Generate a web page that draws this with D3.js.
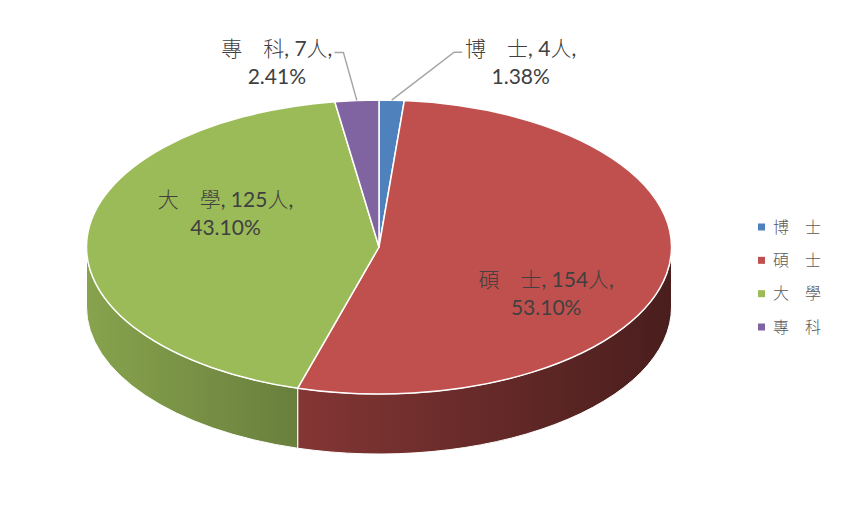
<!DOCTYPE html>
<html>
<head>
<meta charset="utf-8">
<script src="https://cdn.jsdelivr.net/npm/d3@7"></script>
<style>
  html, body { margin: 0; padding: 0; background: #fff; }
  svg { display: block; }
  .lbl { font-family: Lato, "Noto Sans CJK TC", sans-serif; font-size: 21px; fill: #404040; }
  .cjk { font-family: "Noto Sans CJK TC", sans-serif; font-weight: 300; }
  .legend text { font-family: "Noto Sans CJK TC", sans-serif; font-size: 16px; font-weight: 300; fill: #595959; }
</style>
</head>
<body>
<svg id="chart" width="849" height="517"></svg>
<script>
// data
const categories = ["博　士", "碩　士", "大　學", "專　科"];
const counts = [4, 154, 125, 7];
const unit = "人";
const colors = ["#4f81bd", "#c0504d", "#9bbb59", "#8064a2"];

const W = 849, H = 517;
const geo = { cx: 379, cy: 247, rx: 292.5, ry: 147, depth: 60 };

// label placement: offset from the slice's mid point (k = fraction of radius)
const labelLayout = [
    { k: 1, dx: 129, dy: -44, leader: "left" },
    { k: 0.55, dx: 9, dy: 25 },
    { k: 0.55, dx: 7, dy: -35 },
    { k: 1, dx: -80, dy: -44, leader: "right" }
];

const svg = d3.select("#chart");
const defs = svg.append("defs");

const total = d3.sum(counts);
const pct = d3.format(".2%");

const pie = d3.pie().sort(null).value(d => d.count);
const arcs = pie(categories.map((c, i) => ({ name: c, count: counts[i], color: colors[i], i: i })));

function pt(a, r = 1, dy = 0) {
    return [geo.cx + geo.rx * r * Math.sin(a), geo.cy - geo.ry * r * Math.cos(a) + dy];
}

// side shading gradients (lighter left, darker right)
arcs.forEach(d => {
    const base = d3.rgb(d.data.color);
    const shade = f => d3.rgb(base.r * f, base.g * f, base.b * f).toString();
    const g = defs.append("linearGradient")
        .attr("id", "side" + d.data.i)
        .attr("gradientUnits", "userSpaceOnUse")
        .attr("x1", geo.cx - geo.rx).attr("x2", geo.cx + geo.rx)
        .attr("y1", 0).attr("y2", 0);
    [[0, 0.87], [0.36, 0.68], [1, 0.38]].forEach(s => {
        g.append("stop").attr("offset", s[0]).attr("stop-color", shade(s[1]));
    });
});

// sides: only the front half (angle between PI/2 and 3PI/2) is visible
const sides = svg.append("g");
arcs.forEach(d => {
    const a = Math.max(d.startAngle, Math.PI / 2);
    const b = Math.min(d.endAngle, Math.PI * 3 / 2);
    if (b <= a) return;
    const p1 = pt(a), p2 = pt(b), p3 = pt(b, 1, geo.depth), p4 = pt(a, 1, geo.depth);
    const path = `M${p1} A${geo.rx},${geo.ry} 0 0 1 ${p2} L${p3} A${geo.rx},${geo.ry} 0 0 0 ${p4} Z`;
    sides.append("path")
        .attr("d", path)
        .attr("fill", `url(#side${d.data.i})`)
        .attr("stroke", "#fff")
        .attr("stroke-width", 1);
});

// top faces
const tops = svg.append("g");
arcs.forEach(d => {
    const p1 = pt(d.startAngle), p2 = pt(d.endAngle);
    const large = d.endAngle - d.startAngle > Math.PI ? 1 : 0;
    tops.append("path")
        .attr("d", `M${geo.cx},${geo.cy} L${p1} A${geo.rx},${geo.ry} 0 ${large} 1 ${p2} Z`)
        .attr("fill", d.data.color)
        .attr("stroke", "#fff")
        .attr("stroke-width", 1.5)
        .attr("stroke-linejoin", "round");
});

// split a string into CJK / latin runs
function addRuns(text, str) {
    const re = /([\u3000-\u9fff]+)|([^\u3000-\u9fff]+)/g;
    let m;
    while ((m = re.exec(str)) !== null) {
        text.append("tspan").attr("class", m[1] ? "cjk" : null).text(m[0]);
    }
}

// data labels
const labels = svg.append("g");
arcs.forEach(d => {
    const lay = labelLayout[d.data.i];
    const mid = (d.startAngle + d.endAngle) / 2;
    const m = pt(mid, lay.k);
    const x = m[0] + lay.dx, y = m[1] + lay.dy;

    const t1 = labels.append("text").attr("class", "lbl")
        .attr("x", x).attr("y", y).attr("text-anchor", "middle");
    addRuns(t1, `${d.data.name}, ${d.data.count}${unit},`);
    labels.append("text").attr("class", "lbl")
        .attr("x", x).attr("y", y + 28).attr("text-anchor", "middle")
        .text(pct(d.data.count / total));

    if (lay.leader) {
        const bb = t1.node().getBBox();
        const ly = y - 4;
        const edge = lay.leader === "right" ? bb.x + bb.width + 2 : bb.x - 3;
        const elbow = lay.leader === "right" ? edge + 9 : edge - 8;
        const rim = pt(mid, 1);
        labels.append("polyline")
            .attr("points", [[edge, ly], [elbow, ly], rim].join(" "))
            .attr("fill", "none")
            .attr("stroke", "#a6a6a6")
            .attr("stroke-width", 1.5);
    }
});

// legend
const legend = svg.append("g").attr("class", "legend");
const ly = d3.scalePoint().domain(categories).range([227, 327]);
categories.forEach((c, i) => {
    const g = legend.append("g").attr("transform", `translate(758,${ly(c)})`);
    g.append("rect").attr("x", 0).attr("y", -3.5).attr("width", 7).attr("height", 7).attr("fill", colors[i]);
    g.append("text").attr("x", 15).attr("y", 0).attr("dy", "0.36em").text(c);
});
</script>
</body>
</html>
